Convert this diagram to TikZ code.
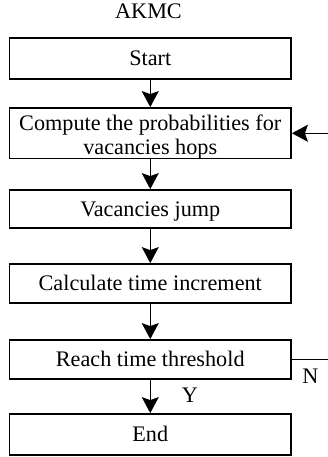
\documentclass[tikz,border=0pt]{standalone}
\usepackage{fontspec}
\setmainfont{Liberation Serif}
\usetikzlibrary{arrows.meta}
\begin{document}
\begin{tikzpicture}[x=1pt,y=-1pt,
  every node/.style={font=\fontsize{22.2}{24}\selectfont},
  flowbox/.style={draw, line width=1.8pt, minimum width=281.5pt, inner sep=0pt,
    text height=14.7pt, text depth=0pt, align=center},
  flowarrow/.style={line width=1.4pt, -{Stealth[length=16pt,width=17pt,inset=3pt]}},
  lbl/.style={inner sep=0pt, anchor=base}]
\useasboundingbox (0,0) rectangle (328,457);
\node[lbl] (title) at (148.5,19) {AKMC};
\node[flowbox, minimum height=50.5pt, text height=43pt] (comp) at (150.25,133.25) {Compute the probabilities for\\vacancies hops};
\node[flowbox, minimum height=41pt] (start) at (150.25,58.5) {Start};
\node[flowbox, minimum height=38pt] (jump) at (150.25,209) {Vacancies jump};
\node[flowbox, minimum height=39pt] (calc) at (150.25,283.5) {Calculate time increment};
\node[flowbox, minimum height=39pt] (reach) at (150.25,359.5) {Reach time threshold};
\node[flowbox, minimum height=41pt] (end) at (150.25,434.5) {End};
\node[lbl] (ylbl) at (190,402) {Y};
\node[lbl] (nlbl) at (310.5,383) {N};
\coordinate (fbA) at (330,359.5);
\coordinate (fbB) at (330,133.25);
\draw[flowarrow] (start) -- (comp);
\draw[flowarrow] (comp) -- (jump);
\draw[flowarrow] (jump) -- (calc);
\draw[flowarrow] (calc) -- (reach);
\draw[flowarrow] (reach) -- (end);
\draw[flowarrow] (reach.east) -- (fbA) -- (fbB) -- (comp.east);
\end{tikzpicture}
\end{document}
